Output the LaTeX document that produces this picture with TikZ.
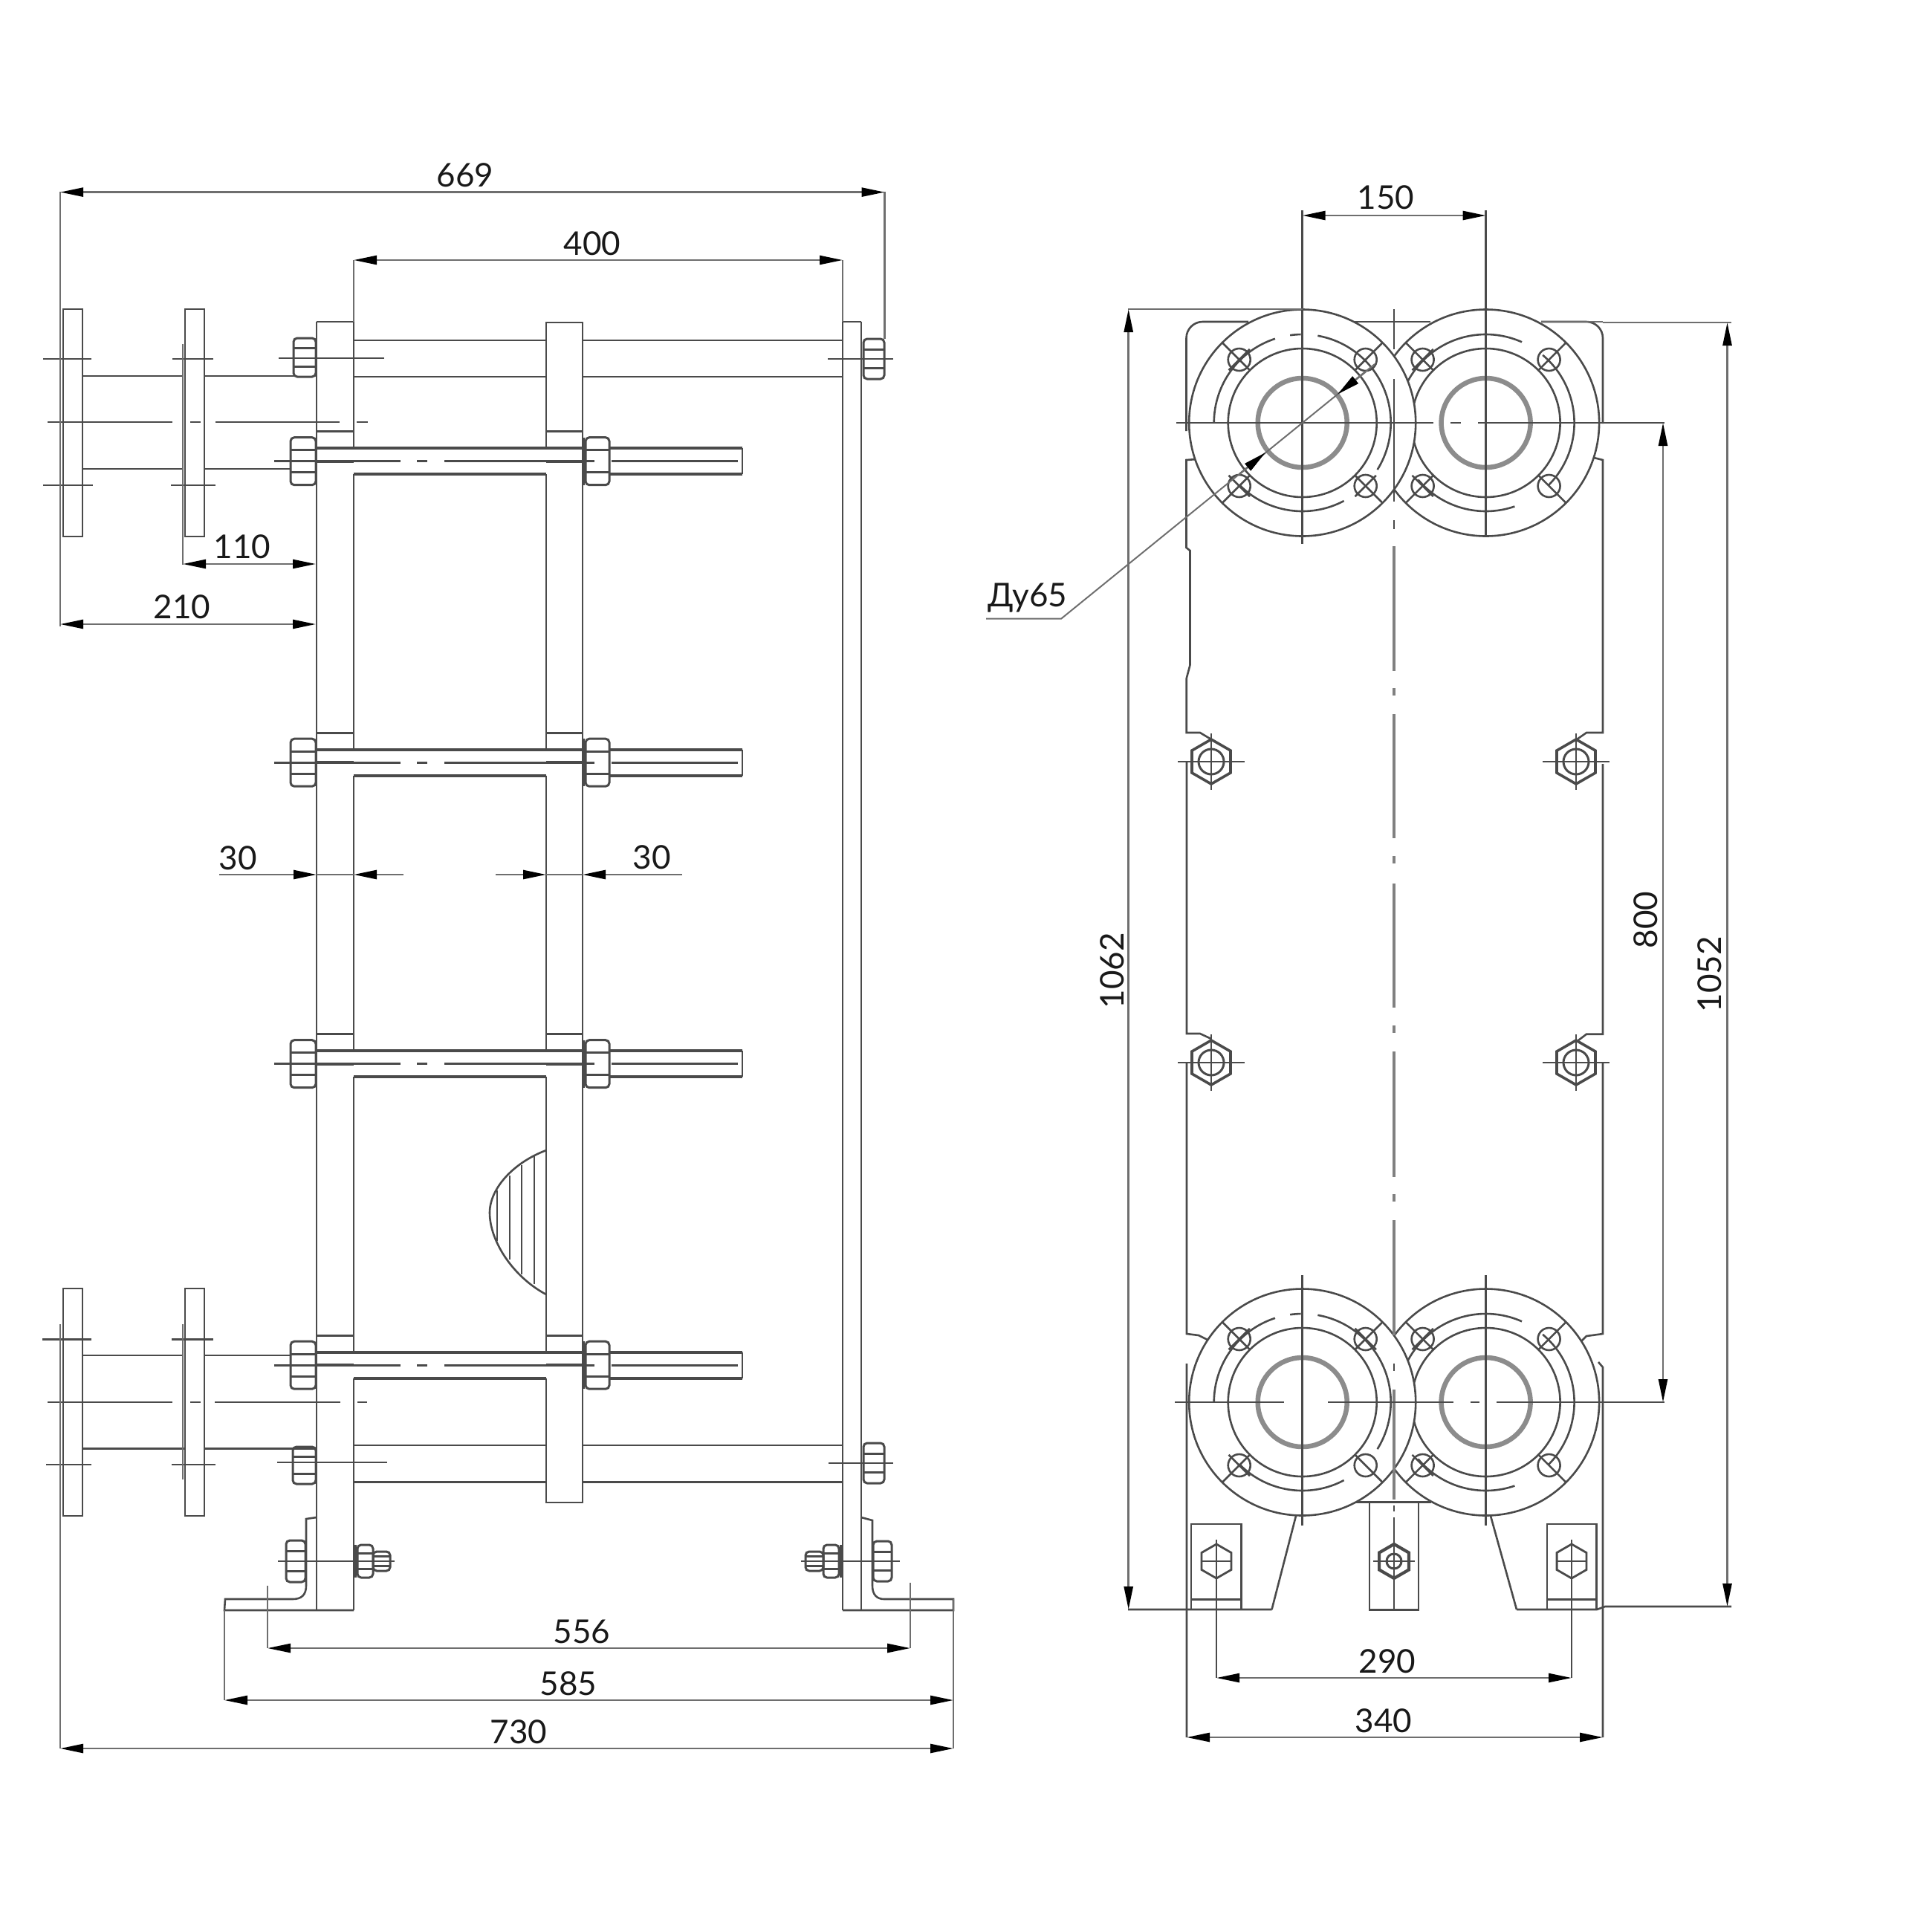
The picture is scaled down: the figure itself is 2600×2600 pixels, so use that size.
\documentclass[tikz,border=0pt]{standalone}
\usepackage{fontspec}
\setmainfont{Lato}
\usetikzlibrary{arrows.meta,shapes.geometric,calc}
\definecolor{inkdark}{HTML}{4A4A4A}
\definecolor{inkgrey}{HTML}{6E6E6E}
\tikzset{
    plateline/.style={draw=inkdark,line width=2.6pt},
    heavyline/.style={draw=inkdark,line width=4pt},
    dimline/.style={draw=inkgrey,line width=2.6pt,>={Triangle[length=31pt,width=12pt,black]}},
    extline/.style={draw=inkgrey,line width=2.6pt},
    centerline/.style={draw=inkdark,line width=2.6pt},
    axisline/.style={draw=black!50,line width=4pt},
    nutline/.style={draw=inkdark,line width=3pt},
    borehole/.style={draw=black!45,line width=6.5pt},
    dimlabel/.style={text=black!90,font=\fontsize{44}{50}\selectfont,inner sep=0pt},
    hexnut/.style={draw=inkdark,line width=3.6pt,regular polygon,regular polygon sides=6,shape border rotate=30,inner sep=0pt}
}
\newcommand{\sidenut}[4]{%
    \draw[nutline,rounded corners=5pt] (#1,{#3-#4}) rectangle (#2,{#3+#4});
    \draw[nutline] (#1,{#3-.47*#4}) -- (#2,{#3-.47*#4}) (#1,{#3+.47*#4}) -- (#2,{#3+.47*#4});
}
\newcommand{\flange}[4]{%
    \begin{scope}[shift={(#1,#2)}]
        \draw[plateline,fill=white] (0,0) circle[radius=152.5];
        \draw[plateline] (0,0) circle[radius=100];
        \draw[borehole] (0,0) circle[radius=60];
        \foreach \a/\b in {#3}
            \draw[plateline] (\a:119) arc[start angle=\a,end angle=\b,radius=119];
        \foreach \a in {45,135,225,315} {
            \draw[plateline] (\a:120.2) circle[radius=15];
            \draw[plateline] (\a:100) -- (\a:152.5);
        }
        \foreach \a in {#4}
            \draw[plateline] ($(\a:120.2)+(\a+90:20)$) -- ($(\a:120.2)+(\a-90:20)$);
    \end{scope}
}
\begin{document}
\begin{tikzpicture}[x=1pt,y=-1pt]
    \useasboundingbox (0,0) rectangle (2600,2600);

    % side view
    \foreach \fx/\fy in {85/416,249/416,85/1734,249/1734}
        \draw[plateline] (\fx,\fy) rectangle ({\fx+26},{\fy+306});
    \draw[plateline] (111,506) -- (247,506) (275,506) -- (395,506) (111,631) -- (247,631) (275,631) -- (392,631);
    \draw[plateline] (111,1824) -- (246,1824) (275,1824) -- (391,1824) (111,1949.5) -- (248,1949.5) (275,1949.5) -- (426,1949.5);
    \draw[centerline] (64,568) -- (232,568) (256,568) -- (270,568) (290,568) -- (457,568) (480,568) -- (495,568);
    \draw[centerline] (64,1887) -- (232,1887) (256,1887) -- (270,1887) (289,1887) -- (458,1887) (481,1887) -- (494,1887);
    \draw[centerline] (58,483) -- (123,483) (232,483) -- (287,483) (58,653) -- (125,653) (230,653) -- (290,653);
    \draw[centerline] (57,1802.6) -- (123,1802.6) (231,1802.6) -- (287,1802.6) (62,1971) -- (123,1971) (231,1971) -- (290,1971);

    \draw[plateline] (426,433) -- (476,433);
    \draw[plateline] (426,433) -- (426,2167);
    \draw[plateline] (476,433) -- (476,603) (476,638) -- (476,1008.7) (476,1043.7) -- (476,1414.2) (476,1449.2) -- (476,1819.7) (476,1854.7) -- (476,2167);
    \draw[plateline] (735,603) -- (735,434) -- (784,434) -- (784,2022) -- (735,2022) -- (735,1854.7);
    \draw[plateline] (735,638) -- (735,1008.7) (735,1043.7) -- (735,1414.2) (735,1449.2) -- (735,1819.7);
    \draw[plateline] (1134,433) -- (1159,433);
    \draw[plateline] (1134,433) -- (1134,2167) (1159,433) -- (1159,2167);

    \draw[plateline] (476,458) -- (735,458) (784,458) -- (1134,458) (476,507) -- (735,507) (784,507) -- (1134,507);
    \draw[plateline] (476,1945) -- (735,1945) (784,1945) -- (1134,1945) (476,1994.7) -- (735,1994.7) (784,1994.7) -- (1134,1994.7);

    \sidenut{395}{425}{481}{26}
    \sidenut{394}{425}{1972}{25}
    \sidenut{1162}{1190}{483}{27}
    \sidenut{1162}{1190}{1969}{27}
    \draw[centerline] (375,482) -- (517,482) (373,1968) -- (521,1968) (1114,483) -- (1202,483) (1115,1969) -- (1202,1969);

    \foreach \y in {620.7,1026.2,1431.7,1837.2} {
        \sidenut{391}{425}{\y}{32}
        \sidenut{788}{820}{\y}{32}
        \draw[plateline] (426,{\y-40}) -- (476,{\y-40}) (735,{\y-40}) -- (784,{\y-40});
        \draw[heavyline] (426,{\y-17.5}) -- (784,{\y-17.5}) (476,{\y+17.5}) -- (735,{\y+17.5});
        \draw[heavyline] (820,{\y-17.5}) -- (999,{\y-17.5}) (820,{\y+17.5}) -- (999,{\y+17.5});
        \draw[plateline] (999,{\y-17.5}) -- (999,{\y+17.5});
        \draw[centerline] (369,\y) -- (539,\y) (561,\y) -- (575,\y) (598,\y) -- (800,\y) (823,\y) -- (993,\y);
        \draw[heavyline] (426,\y) -- (476,\y) (735,\y) -- (784,\y);
        \draw[nutline] (785,{\y-32}) -- (785,{\y+32});
    }

    % feet
    \draw[plateline] (426,2042) -- (412,2044) -- (412,2134) .. controls (412,2146) and (406,2152) .. (394,2152) -- (303,2152) -- (302,2167) -- (476,2167);
    \draw[plateline] (1134,2167) -- (1283,2167) -- (1283,2152) -- (1190,2152) .. controls (1180,2152) and (1174,2146) .. (1174,2134) -- (1174,2046) -- (1159,2042);
    \sidenut{385}{411}{2101}{28}
    \sidenut{481}{502}{2101}{22}
    \sidenut{502}{525}{2101}{13}
    \sidenut{1108}{1129}{2101}{22}
    \sidenut{1084}{1108}{2101}{13}
    \sidenut{1175}{1200}{2101}{27}
    \draw[nutline] (478,2079) -- (478,2123) (1131,2079) -- (1131,2123);
    \draw[centerline] (374,2101) -- (531,2101) (1078,2101) -- (1211,2101);

    % hatching
    \draw[plateline] (735,1548) .. controls (690,1565) and (659,1600) .. (659,1632) .. controls (659,1670) and (690,1718) .. (735,1742);
    \draw[plateline] (719,1556) -- (719,1728) (702,1568) -- (702,1715) (686,1582) -- (686,1695) (669,1602) -- (669,1670);

    % side view dimensions
    \draw[extline] (81,258) -- (81,843) (81,1782) -- (81,2353) (1190.5,258) -- (1190.5,456) (476,350) -- (476,433) (1134,350) -- (1134,433);
    \draw[extline] (246,463) -- (246,760) (246,1782) -- (246,1991);
    \draw[extline] (360,2134) -- (360,2218) (1225,2130) -- (1225,2218) (302,2167) -- (302,2288) (1283,2152) -- (1283,2353);
    \draw[dimline,<->] (81,258.6) -- (1190.5,258.6);
    \draw[dimline,<->] (476,350) -- (1134,350);
    \draw[dimline,<->] (246,759) -- (425,759);
    \draw[dimline,<->] (81,840) -- (425,840);
    \draw[dimline,->] (295,1177) -- (426,1177);
    \draw[dimline,->] (543,1177) -- (476,1177);
    \draw[dimline,->] (667,1177) -- (735,1177);
    \draw[dimline,->] (918,1177) -- (784,1177);
    \draw[extline] (426,1177) -- (476,1177) (735,1177) -- (784,1177);
    \draw[dimline,<->] (360,2218) -- (1225,2218);
    \draw[dimline,<->] (302,2288) -- (1283,2288);
    \draw[dimline,<->] (81,2353) -- (1283,2353);
    \node[dimlabel] (len669) at (626,236) {669};
    \node[dimlabel] (len400) at (797,328) {400};
    \node[dimlabel] (len110) at (326,736) {110};
    \node[dimlabel] (len210) at (245,817) {210};
    \node[dimlabel] (gapa) at (320,1155) {30};
    \node[dimlabel] (gapb) at (877,1154) {30};
    \node[dimlabel] (len556) at (783,2196) {556};
    \node[dimlabel] (len585) at (765,2266) {585};
    \node[dimlabel] (len730) at (698,2331) {730};

    % front view
    \draw[plateline,rounded corners=22pt] (1680,433) -- (1596.5,433) -- (1596.5,580);
    \draw[plateline,rounded corners=22pt] (2074,433) -- (2157,433) -- (2157,570);
    \draw[plateline] (1823,433) -- (1925,433);
    \draw[plateline] (1610,618) -- (1596.5,619) -- (1596.5,737) -- (1601.5,741) -- (1601.5,895) -- (1596.7,913) -- (1596.7,986) -- (1615,986) -- (1630,995);
    \draw[plateline] (2145,616) -- (2157,619) -- (2157,986) -- (2135,986) -- (2122,995);
    \draw[plateline] (1597,1025) -- (1597,1391) -- (1615,1391) -- (1630,1398);
    \draw[plateline] (2157,1028) -- (2157,1391.7) -- (2135,1391.7) -- (2124,1400);
    \draw[plateline] (1597,1430) -- (1597,1795) -- (1613,1797) -- (1625,1803);
    \draw[plateline] (2157,1430) -- (2157,1795) -- (2135,1798) -- (2128,1805);
    \draw[plateline] (1597,1835) -- (1597,2338) (2151,1833) -- (2157,1840) -- (2157,2338);

    \flange{1999.6}{569}{200/294,-50/45,71/140}{135,225}
    \flange{1752.7}{569}{180/252,262/269,-80/32,62/135}{45,135,225}
    \flange{1999.6}{1887}{200/294,-50/45,71/140}{135,225}
    \flange{1752.7}{1887}{180/252,262/269,-80/32,62/135}{135,225,315}

    \draw[centerline] (1876,416) -- (1876,470) (1876,510) -- (1876,675) (1876,700) -- (1876,712);
    \draw[axisline] (1876,735) -- (1876,903) (1876,926) -- (1876,936) (1876,961) -- (1876,1128) (1876,1152) -- (1876,1162) (1876,1189) -- (1876,1356) (1876,1380) -- (1876,1390) (1876,1415) -- (1876,1584) (1876,1607) -- (1876,1617) (1876,1642) -- (1876,1797);
    \draw[axisline] (1876,1870) -- (1876,2018);
    \draw[centerline] (1876,1835) -- (1876,1845) (1876,2026) -- (1876,2034) (1876,2042) -- (1876,2167);
    \draw[centerline] (1752.7,283) -- (1752.7,732) (1999.6,283) -- (1999.6,723) (1752.7,1716) -- (1752.7,2053) (1999.6,1716) -- (1999.6,2053);
    \draw[centerline] (1583,569) -- (1929,569) (1952,569) -- (1966,569) (1989,569) -- (2240,569);
    \draw[centerline] (1581,1887) -- (1728,1887) (1787,1887) -- (1956,1887) (1979,1887) -- (1991,1887) (2014,1887) -- (2240,1887);

    \foreach \nx/\ny in {1630/1025,2121/1025,1630/1430,2121/1430} {
        \node[hexnut,minimum size=60pt] (boss\nx\ny) at (\nx,\ny) {};
        \draw[nutline] (\nx,\ny) circle[radius=17];
        \draw[centerline] ({\nx-45},\ny) -- ({\nx+45},\ny) (\nx,{\ny-38}) -- (\nx,{\ny+38});
    }

    \draw[plateline] (1744,2040) -- (1711.5,2166) (2006,2040) -- (2041,2166);
    \draw[plateline] (1603,2166) -- (1603,2051) -- (1670.7,2051) -- (1670.7,2166) (1603,2152.7) -- (1670.7,2152.7);
    \draw[plateline] (2082,2166) -- (2082,2051) -- (2148.4,2051) -- (2148.4,2166) (2082,2152.7) -- (2148.4,2152.7);
    \draw[plateline] (1825,2021.7) -- (1926,2021.7) (1843,2021.7) -- (1843,2166.7) -- (1909,2166.7) -- (1909,2021.7);
    \draw[plateline] (1518,2166) -- (1711.5,2166) (2041,2166) -- (2149,2166) -- (2160,2162) -- (2330,2162);
    \foreach \nx in {1637,2115} {
        \node[hexnut,line width=2.8pt,minimum size=46pt] (footbolt\nx) at (\nx,2101) {};
        \draw[centerline] ({\nx-20},2101) -- ({\nx+20},2101) (\nx,2072) -- (\nx,2258);
    }
    \node[hexnut,line width=4.2pt,minimum size=46pt] (footboltmid) at (1876,2101) {};
    \draw[nutline] (1876,2101) circle[radius=10];
    \draw[centerline] (1848,2101) -- (1904,2101);

    % front view dimensions
    \draw[extline] (1518,416) -- (1752.7,416) (2157,434) -- (2330,434) (2074,433) -- (2157,433);
    \draw[dimline,<->] (1518.7,416) -- (1518.7,2166);
    \draw[dimline,<->] (2324.5,434) -- (2324.5,2162);
    \draw[dimline,<->] (2238,569) -- (2238,1887);
    \draw[dimline,<->] (1752.7,290) -- (1999.6,290);
    \draw[dimline,<->] (1637,2258) -- (2115,2258);
    \draw[dimline,<->] (1597,2338) -- (2157,2338);
    \node[dimlabel] (dia150) at (1865,266) {150};
    \node[dimlabel] (wid290) at (1867,2236) {290};
    \node[dimlabel] (wid340) at (1862,2316) {340};
    \node[dimlabel,rotate=90] (hgt1062) at (1497,1306) {1062};
    \node[dimlabel,rotate=90] (hgt800) at (2215,1238) {800};
    \node[dimlabel,rotate=90] (hgt1052) at (2301,1311) {1052};

    \coordinate (leadtop) at (1850,490);
    \draw[extline,line width=2pt] (1327,832.7) -- (1428,832.7) -- (leadtop);
    \draw[dimline,->] (1668,638) -- (1703,609);
    \draw[dimline,->] (1838,500) -- (1800,530.6);
    \node[dimlabel] (bore) at (1383,805) {Ду65};
\end{tikzpicture}
\end{document}
